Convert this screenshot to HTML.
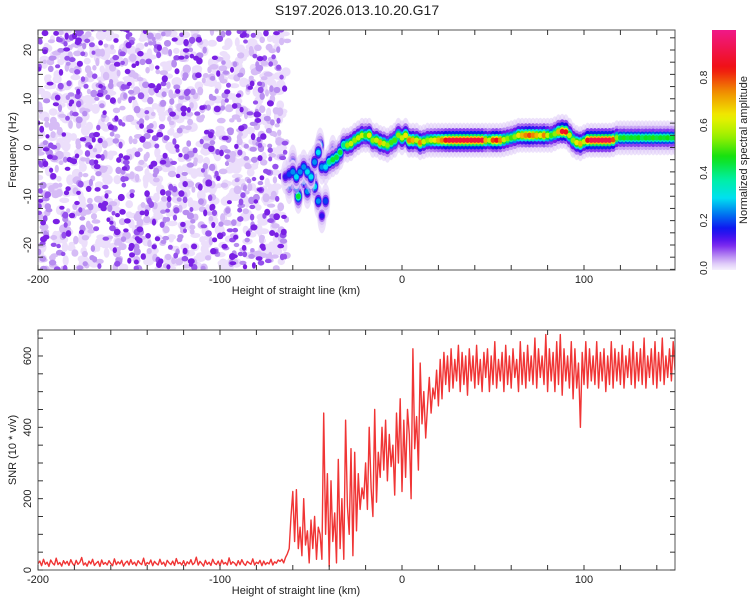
<!DOCTYPE html>
<html><head><meta charset="utf-8">
<style>
body{margin:0;background:#fff;width:750px;height:600px;overflow:hidden}
svg{display:block;font-family:"Liberation Sans",sans-serif}
</style></head>
<body>
<svg id="chart" width="750" height="600" viewBox="0 0 750 600" xmlns="http://www.w3.org/2000/svg">
<defs>
<clipPath id="clipTop"><rect x="38" y="30" width="637" height="240"/></clipPath>
<clipPath id="clipBot"><rect x="38" y="330" width="637" height="240"/></clipPath>
<linearGradient id="cbGrad" x1="0" y1="1" x2="0" y2="0"></linearGradient>
</defs>
<text x="357" y="15" font-size="14" text-anchor="middle" fill="#222">S197.2026.013.10.20.G17</text>
<g id="topNoise" clip-path="url(#clipTop)"></g>
<g id="topRidge" clip-path="url(#clipTop)"></g>
<g id="topAxes"></g>
<g id="colorbar"></g>
<g id="botLine" clip-path="url(#clipBot)"></g>
<g id="botAxes"></g>
</svg>
<script>
// ---- data ----
const xTickLabels = [-200, -100, 0, 100];
const freqTickLabels = [-20, -10, 0, 10, 20];
const snrTickLabels = [0, 200, 400, 600];
const cbTickLabels = [0.0, 0.2, 0.4, 0.6, 0.8];

const ridgeH = [-64,-62,-60,-58,-56,-54,-52,-50,-48,-46,-44,-42,-40,-38,-36,-34,-32,-30,-28,-26,-24,-22,-20,-18,-16,-14,-12,-10,-8,-6,-4,-2,0,2,4,6,8,10,12,14,16,18,20,22,24,26,28,30,32,34,36,38,40,42,44,46,48,50,52,54,56,58,60,62,64,66,68,70,72,74,76,78,80,82,84,86,88,90,92,94,96,98,100,102,104,106,108,110,112,114,116,118,120,122,124,126,128,130,132,134,136,138,140,142,144,146,148,150];
const ridgeF = [-6,-5.5,-5,-6,-5,-4,-5,-6,-3,-1,-4,-4,-3,-2.5,-2,-1,0.5,0.5,0.8,1.5,2,2.5,2.5,2.5,1.5,1.5,1,0.8,0.5,1,1.5,2.5,2,2.5,1.5,1.5,1.5,1,1.2,1.5,1.5,1.5,1.5,1.5,1.5,1.5,1.5,1.5,1.5,1.5,1.5,1.5,1.5,1.5,1.5,1.5,1.5,1.5,1.5,1.5,1.6,1.8,2,2.2,2.5,2.5,2.5,2.5,2.5,2.5,2.5,2.5,2.5,2.5,2.8,3.2,3.3,3.2,2.5,1.5,1.0,0.8,1.2,1.5,1.5,1.5,1.5,1.5,1.5,1.5,1.6,2,2,2,2,2,2,2,2,2,2,2,2,2,2,2,2,2];
const ridgeA = [0.15,0.2,0.25,0.3,0.25,0.25,0.3,0.3,0.25,0.3,0.25,0.3,0.4,0.45,0.45,0.45,0.4,0.55,0.6,0.55,0.6,0.6,0.5,0.65,0.55,0.6,0.7,0.6,0.55,0.5,0.5,0.55,0.6,0.65,0.75,0.7,0.6,0.75,0.6,0.55,0.6,0.65,0.7,0.75,0.85,0.9,0.9,0.9,0.9,0.9,0.9,0.9,0.9,0.9,0.9,0.7,0.6,0.8,0.85,0.75,0.6,0.55,0.5,0.55,0.65,0.7,0.75,0.8,0.75,0.7,0.65,0.75,0.6,0.5,0.55,0.7,0.88,0.85,0.6,0.55,0.65,0.7,0.6,0.85,0.92,0.92,0.92,0.92,0.92,0.92,0.8,0.55,0.45,0.48,0.44,0.46,0.45,0.47,0.43,0.46,0.45,0.48,0.44,0.46,0.45,0.47,0.44,0.46];

const blobH = [-62,-58,-57,-54,-50,-49,-48,-46,-44,-45,-42,-38,-60,-52];
const blobF = [-8,-8,-10,-7,-4,-6,-8,-11,-14,0.5,-11,-1,-3,-9];
const blobA = [0.2,0.3,0.45,0.25,0.35,0.35,0.3,0.25,0.15,0.3,0.2,0.35,0.2,0.25];

const snrStart = -200;
const snrValues = [
18,25,12,30,16,22,10,28,19,14,33,15,21,11,26,17,24,13,29,18,
12,27,16,22,35,14,20,11,25,17,30,13,19,24,10,28,16,21,14,26,
18,12,31,15,23,17,27,11,20,25,14,29,16,22,12,26,19,15,33,13,
21,17,28,12,24,18,14,30,16,22,11,27,20,15,25,13,32,18,21,14,
26,12,23,17,29,15,20,36,14,24,18,11,27,16,22,13,30,19,15,25,
12,28,17,21,14,34,16,23,19,12,26,15,29,18,13,24,20,16,31,14,
22,18,27,12,25,15,21,17,30,14,23,19,28,24,30,20,35,45,
60,150,220,80,225,60,120,40,200,70,110,20,140,60,150,30,120,100,30,440,
100,270,10,250,80,160,20,310,60,200,30,420,180,100,340,40,330,110,270,170,
230,200,300,170,400,230,150,450,190,330,260,400,280,420,250,380,290,350,210,440,
300,480,220,420,260,450,380,200,620,340,430,280,580,410,500,370,460,540,440,510,
480,560,460,590,480,610,520,600,500,620,510,590,530,630,500,610,520,600,490,620,
530,600,510,630,520,590,500,610,540,620,500,600,520,640,510,590,530,610,500,630,
520,600,510,620,540,590,500,640,520,610,510,630,530,600,520,650,510,620,540,600,
520,660,500,620,530,610,500,640,520,660,490,620,530,600,510,640,480,620,510,580,
400,610,520,640,510,620,530,600,520,640,510,610,530,620,500,600,520,640,510,620,
530,610,520,630,510,600,540,620,520,640,510,610,530,620,520,650,510,600,540,620,
520,640,510,610,530,650,520,600,540,620,530,640,560];

// ---- axes functions ----
const NS = "http://www.w3.org/2000/svg";
const xScale = h => 38 + (h + 200) * 1.82;
const fScale = f => 147.5 - f * 4.875;
const sScale = v => 570 - v * 0.3567;
const cbScale = v => 268 - v * 238;

const cmapStops = [[0,"#f6f0fd"],[0.03,"#dcc6f8"],[0.07,"#a870f0"],[0.11,"#7018ee"],[0.17,"#1010f0"],[0.23,"#0070f0"],[0.3,"#00e0f0"],[0.38,"#00f0a0"],[0.47,"#10e010"],[0.56,"#a0f000"],[0.64,"#f0f000"],[0.74,"#f09000"],[0.84,"#f01010"],[1.0,"#f01888"]];
function hex(c){return [parseInt(c.slice(1,3),16),parseInt(c.slice(3,5),16),parseInt(c.slice(5,7),16)];}
function cmap(v){
  v=Math.max(0,Math.min(1,v));
  for(let i=1;i<cmapStops.length;i++){
    if(v<=cmapStops[i][0]){
      const a=cmapStops[i-1],b=cmapStops[i];
      const t=(v-a[0])/(b[0]-a[0]);const ca=hex(a[1]),cb=hex(b[1]);
      return "rgb("+ca.map((x,k)=>Math.round(x+(cb[k]-x)*t)).join(",")+")";
    }
  }
  return cmapStops[cmapStops.length-1][1];
}
function mk(tag,attrs,parent){const e=document.createElementNS(NS,tag);for(const k in attrs)e.setAttribute(k,attrs[k]);parent.appendChild(e);return e;}

// ---- noise background (texture) ----
const gN=document.getElementById("topNoise");
let seed=12345;
function rnd(){seed=(seed*1103515245+12345)%2147483648;return seed/2147483648;}
const noiseCols=[["#ecdffb",700,2.5,5.5],["#d6bcf6",420,2,4.5],["#b88ef0",220,2,3.8],["#9550ec",200,2,3.5],["#7a20e4",220,2,3.6]];
noiseCols.forEach(([col,n,r0,r1])=>{
  for(let i=0;i<n;i++){
    const h=-200+rnd()*137, f=-25+rnd()*50;
    const c=mk("ellipse",{cx:xScale(h).toFixed(1),cy:fScale(f).toFixed(1),rx:(r0+rnd()*(r1-r0)).toFixed(1),ry:(r0+rnd()*(r1-r0)).toFixed(1),fill:col},gN);
    
    
  }
});

// ---- ridge ----
const gR=document.getElementById("topRidge");
const layers=[[3.6,0.035,2.6,0.5],[2.5,0.1,2.4,1],[1.9,0.2,2.2,1],[1.3,0.45,1.9,1],[0.9,0.75,1.6,1],[0.55,1.0,1.3,1]];
function drawBlobs(H,F,A,name){
  layers.forEach(([ry,fr,rx,op])=>{
    for(let i=0;i<H.length;i++){
      const e=mk("ellipse",{cx:xScale(H[i]).toFixed(1),cy:fScale(F[i]).toFixed(1),rx:(rx*1.82).toFixed(1),ry:(ry*4.875).toFixed(1),fill:cmap(Math.max(A[i]*fr, fr<0.05?0.03:0)),opacity:op},gR);
      
      
    }
  });
}
drawBlobs(blobH,blobF,blobA,'ridge-streak-blob');
drawBlobs(ridgeH,ridgeF,ridgeA,'ridge-point');

// ---- frames & ticks ----
function frame(g,y0,y1,name){
  const r=mk("rect",{x:38,y:y0,width:637,height:y1-y0,fill:"none",stroke:"#555","stroke-width":1},g);
  
  
  for(let h=-200;h<=150;h+=20){
    const x=xScale(h);
    mk("line",{x1:x,y1:y0,x2:x,y2:y0+5,stroke:"#333"},g);
    mk("line",{x1:x,y1:y1,x2:x,y2:y1-5,stroke:"#333"},g);
  }
  xTickLabels.forEach(v=>{
    const t=mk("text",{x:xScale(v),y:y1+13,"font-size":11,"text-anchor":"middle",fill:"#222"},g);
    t.textContent=String(v);
    
    
  });
  const xl=mk("text",{x:296,y:y1+24,"font-size":11,"text-anchor":"middle",fill:"#222"},g);
  xl.textContent="Height of straight line (km)";
  
  
}
const gT=document.getElementById("topAxes");
frame(gT,30,270,'spectrogram-frame');
for(let f=-25;f<=25;f+=2.5){const y=fScale(f);if(y<30||y>270)continue;
  mk("line",{x1:38,y1:y,x2:43,y2:y,stroke:"#333"},gT);mk("line",{x1:675,y1:y,x2:670,y2:y,stroke:"#333"},gT);}
freqTickLabels.forEach(v=>{
  const y=fScale(v);
  const t=mk("text",{x:0,y:0,"font-size":11,"text-anchor":"middle",fill:"#222",transform:`translate(31,${y}) rotate(-90)`},gT);
  t.textContent=String(v);
  
  
});
const fy=mk("text",{x:0,y:0,"font-size":11,"text-anchor":"middle",fill:"#222",transform:"translate(16,150) rotate(-90)"},gT);
fy.textContent="Frequency (Hz)";



// ---- colorbar ----
const grad=document.getElementById("cbGrad");
for(let i=0;i<=40;i++){const v=i/40;mk("stop",{offset:v,"stop-color":cmap(v)},grad);}
const gC=document.getElementById("colorbar");
const cbr=mk("rect",{x:712,y:cbScale(1),width:24,height:cbScale(0)-cbScale(1)+2,fill:"url(#cbGrad)"},gC);


cbTickLabels.forEach(v=>{
  const y=cbScale(v);
  const t=mk("text",{x:0,y:0,"font-size":10,"text-anchor":"middle",fill:"#222",transform:`translate(707,${y}) rotate(-90)`},gC);
  t.textContent=v.toFixed(1);
  
  
});
const ct=mk("text",{x:0,y:0,"font-size":11,"text-anchor":"middle",fill:"#222",transform:"translate(747,150) rotate(-90)"},gC);
ct.textContent="Normalized spectral amplitude";



// ---- SNR plot ----
const gB=document.getElementById("botAxes");
frame(gB,330,570,'snr-frame');
for(let v=0;v<=650;v+=50){const y=sScale(v);
  mk("line",{x1:38,y1:y,x2:43,y2:y,stroke:"#333"},gB);mk("line",{x1:675,y1:y,x2:670,y2:y,stroke:"#333"},gB);}
snrTickLabels.forEach(v=>{
  const y=sScale(v);
  const t=mk("text",{x:0,y:0,"font-size":11,"text-anchor":"middle",fill:"#222",transform:`translate(31,${y}) rotate(-90)`},gB);
  t.textContent=String(v);
  
  
});
const sy=mk("text",{x:0,y:0,"font-size":11,"text-anchor":"middle",fill:"#222",transform:"translate(16,450) rotate(-90)"},gB);
sy.textContent="SNR (10 * v/v)";


const gL=document.getElementById("botLine");
const pts=snrValues.map((v,i)=>xScale(snrStart+i).toFixed(1)+","+sScale(v).toFixed(1)).join(" ");
const pl=mk("polyline",{points:pts,fill:"none",stroke:"#f03535","stroke-width":1.4,"stroke-linejoin":"round"},gL);


</script>
</body></html>
